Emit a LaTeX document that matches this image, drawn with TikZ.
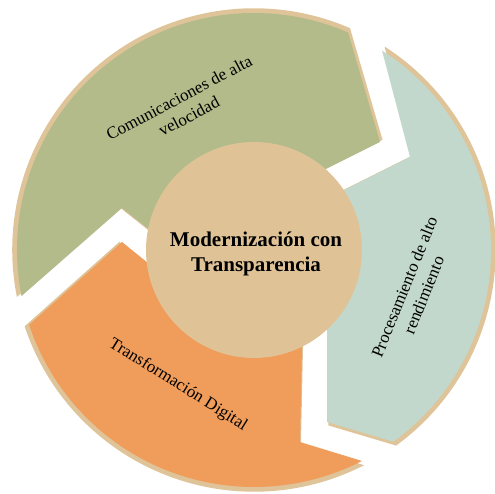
\documentclass[tikz,border=0pt]{standalone}
\usepackage{fontspec}
\setmainfont{Liberation Serif}
\usetikzlibrary{positioning,calc}

\definecolor{ringgreen}{RGB}{179,187,138}
\definecolor{ringteal}{RGB}{194,216,204}
\definecolor{ringorange}{RGB}{240,156,90}
\definecolor{ringtan}{RGB}{222,196,152}
\definecolor{hubtan}{RGB}{223,195,151}

% outlines of the three ring segments (hub at (254,244), outer radius 237)
\newcommand{\greenseg}{(180,240) -- (122,286) -- ([shift={(254,244)}]191.2:237) arc[start angle=191.2, end angle=66.6, radius=237] -- (380,352) -- (290,307) -- (254,244) -- cycle}
\newcommand{\tealseg}{(300,282) -- (410,337) -- ([shift={(254,244)}]57.3:237) arc[start angle=57.3, end angle=-54, radius=237] -- (327,72) -- (327,194) -- (254,244) -- cycle}
\newcommand{\orangeseg}{(303,194) -- (300,52) -- ([shift={(254,244)}]-62.9:237) arc[start angle=-62.9, end angle=-161.6, radius=237] -- (122,252) -- (185,201) -- (254,244) -- cycle}

\begin{document}
\begin{tikzpicture}[x=1pt,y=1pt,
		seglabel/.style={align=center, inner sep=0pt, font=\fontsize{17}{21}\selectfont},
		hublabel/.style={align=center, inner sep=0pt, font=\fontsize{21}{25}\selectfont\bfseries}]
		\useasboundingbox (0,0) rectangle (495,494);
		
		% tan rims behind the segments
		\begin{scope}[scale around={1.02:(254,244)}]
			\fill[ringtan] \greenseg;
			\fill[ringtan] \tealseg;
			\fill[ringtan] \orangeseg;
		\end{scope}
		
		\fill[ringgreen] \greenseg;
		\fill[ringteal] \tealseg;
		\fill[ringorange] \orangeseg;
		
		\node[circle, fill=hubtan, minimum size=216pt, inner sep=0pt] (hub) at (254,244) {};
		\node[hublabel] (hubtext) at (256,240) {Modernización con\\Transparencia};
		
		\node[seglabel, rotate=28] (comms) at (184,387) {Comunicaciones de alta\\velocidad};
		\node[seglabel, rotate=68] (proc) at (414,203) {Procesamiento de alto\\rendimiento};
		\node[seglabel, rotate=-32] (trans) at (178,109) {Transformación Digital};
	\end{tikzpicture}
\end{document}
